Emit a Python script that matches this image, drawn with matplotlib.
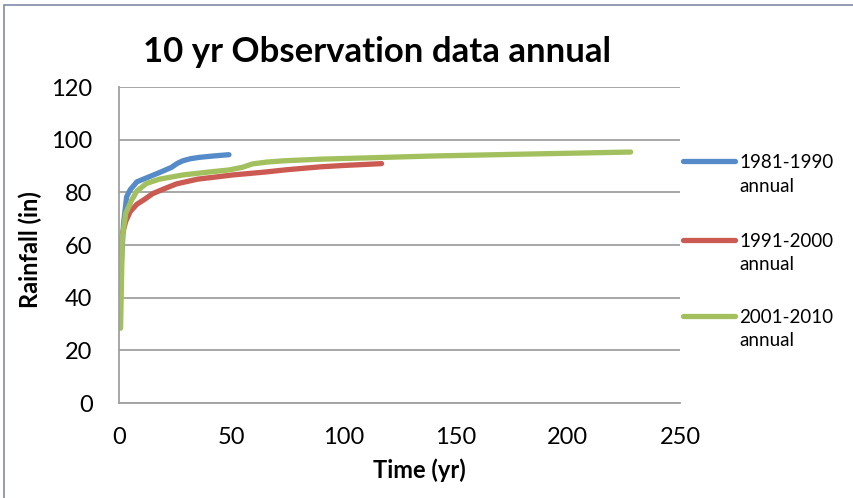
import matplotlib.pyplot as plt
from matplotlib.lines import Line2D
from matplotlib.patches import Rectangle

plt.rcParams['font.family'] = ['Lato', 'DejaVu Sans']

# cumulative rainfall curves per decade
t_8190 = [0, 1, 2, 3.4, 5, 8, 13.7, 18, 23.4, 26, 28.5, 32, 36, 42, 49]
r_8190 = [30, 52, 68, 78.3, 81, 84, 86, 87.5, 89.5, 91, 92, 92.8, 93.3, 93.8, 94.3]

t_9100 = [0, 1.2, 3, 5, 8, 10.8, 15, 20, 25.6, 35, 50.7, 65, 75, 90, 100, 117]
r_9100 = [45, 63, 69, 72.7, 75.5, 77, 79.5, 81.3, 83.2, 85, 86.6, 87.7, 88.6, 89.7, 90.2, 90.9]

t_0110 = [0.7, 1.5, 3, 5.6, 8, 12.3, 18, 28.5, 40, 49, 55, 59.5, 66, 74, 90, 107, 140, 180, 228]
r_0110 = [28.4, 63, 72, 77, 80.5, 83.4, 85, 86.6, 87.7, 88.5, 89.5, 90.8, 91.5, 92, 92.6, 93, 93.8, 94.5, 95.3]

periods = ['1981-1990', '1991-2000', '2001-2010']
colors = ['#558BC8', '#CB5A52', '#A2C15E']

W, H = 854, 498
fig = plt.figure(figsize=(W / 100, H / 100), dpi=100)

# chart frame
fig.patches.append(Rectangle((4 / W, -0.1), 1.2, 1.1 - 5 / H,
                             transform=fig.transFigure, fill=False,
                             edgecolor='#7F8BA8', linewidth=1.2))

ax = fig.add_axes([119 / W, 1 - 403 / H, 561 / W, 316 / H])
for t, r, c in zip([t_8190, t_9100, t_0110], [r_8190, r_9100, r_0110], colors):
    ax.plot(t, r, color=c, linewidth=3.8,
            solid_capstyle='round', solid_joinstyle='round')

ax.set_xlim(0, 250)
ax.set_ylim(0, 120)
ax.set_xticks(range(0, 251, 50))
ax.set_yticks(range(0, 121, 20))
ax.grid(axis='y', color='#A0A0A0', linewidth=1.3)
ax.set_axisbelow(True)
for s in ['top', 'right']:
    ax.spines[s].set_visible(False)
for s in ['left', 'bottom']:
    ax.spines[s].set_color('#A0A0A0')
    ax.spines[s].set_linewidth(1.3)
ax.tick_params(axis='x', length=0, labelsize=17, pad=17)
ax.tick_params(axis='y', length=0, labelsize=17, pad=19)

fig.text(377 / W, 1 - 52 / H, '10 yr Observation data annual',
         fontsize=25, fontweight='bold', ha='center', va='center')
ax.set_xlabel('Time (yr)', fontsize=17, fontweight='bold', va='center')
ax.xaxis.set_label_coords((419 - 119) / 561, (403 - 470) / 316)
ax.set_ylabel('Rainfall (in)', fontsize=17, fontweight='bold', va='center')
ax.yaxis.set_label_coords((30 - 119) / 561, (403 - 250) / 316)

# legend: line sample next to a two-line label
for y, name, c in zip([161, 240, 316], periods, colors):
    fig.add_artist(Line2D([683 / W, 735 / W], [1 - y / H, 1 - y / H],
                          transform=fig.transFigure, color=c, linewidth=3.8,
                          solid_capstyle='round'))
    fig.text(739 / W, 1 - (y + 1) / H, name, fontsize=13.5, va='center')
    fig.text(739 / W, 1 - (y + 25) / H, 'annual', fontsize=13.5, va='center')

fig.savefig('out.png', dpi=100)
